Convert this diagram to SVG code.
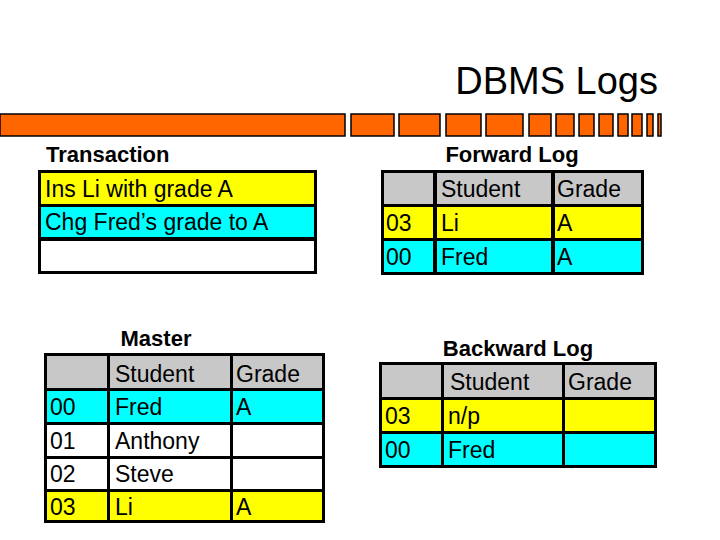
<svg xmlns="http://www.w3.org/2000/svg" width="720" height="540" viewBox="0 0 720 540">
<style>
text{font-family:"Liberation Sans",Arial,sans-serif;font-size:23px;fill:#000}
.h{font-weight:bold;font-size:22px}
.bar rect{fill:#ff6600;stroke:#000;stroke-width:1.5}
.g{fill:#c8c8c8}.y{fill:#ffff00}.c{fill:#00ffff}.w{fill:#fff}
</style>
<rect width="720" height="540" fill="#fff"/>
<text x="658" y="94" font-size="38" text-anchor="end" style="font-size:38px">DBMS Logs</text>
<g class="bar">
<rect x="0" y="114" width="345" height="22"/>
<rect x="351" y="114" width="43" height="22"/>
<rect x="399" y="114" width="41" height="22"/>
<rect x="446" y="114" width="35" height="22"/>
<rect x="486" y="114" width="37" height="22"/>
<rect x="529" y="114" width="22" height="22"/>
<rect x="556" y="114" width="18" height="22"/>
<rect x="579" y="114" width="15" height="22"/>
<rect x="599" y="114" width="14" height="22"/>
<rect x="618" y="114" width="10" height="22"/>
<rect x="632" y="114" width="10" height="22"/>
<rect x="647" y="114" width="6" height="22"/>
<rect x="658" y="114" width="3" height="22"/>
</g>
<g id="transaction">
<text class="h" x="46" y="162">Transaction</text>
<rect x="38" y="170" width="279" height="104" fill="#000"/>
<rect class="y" x="41" y="173" width="273" height="31"/>
<rect class="c" x="41" y="207" width="273" height="30"/>
<rect class="w" x="41" y="241" width="273" height="30"/>
<text x="45" y="197">Ins Li with grade A</text>
<text x="45" y="230">Chg Fred’s grade to A</text>
</g>
<g id="forward">
<text class="h" x="512" y="162" text-anchor="middle">Forward Log</text>
<rect x="381" y="170" width="263" height="105" fill="#000"/>
<rect class="g" x="384" y="173" width="49" height="31"/>
<rect class="g" x="437" y="173" width="114" height="31"/>
<rect class="g" x="555" y="173" width="86" height="31"/>
<rect class="y" x="384" y="207" width="49" height="31"/>
<rect class="y" x="437" y="207" width="114" height="31"/>
<rect class="y" x="555" y="207" width="86" height="31"/>
<rect class="c" x="384" y="241" width="49" height="31"/>
<rect class="c" x="437" y="241" width="114" height="31"/>
<rect class="c" x="555" y="241" width="86" height="31"/>
<text x="441" y="197">Student</text><text x="557" y="197">Grade</text>
<text x="386" y="231">03</text><text x="441" y="231">Li</text><text x="557" y="231">A</text>
<text x="386" y="265">00</text><text x="441" y="265">Fred</text><text x="557" y="265">A</text>
</g>
<g id="master">
<text class="h" x="156" y="346" text-anchor="middle">Master</text>
<rect x="44" y="353" width="281" height="170" fill="#000"/>
<rect class="g" x="47" y="356" width="60" height="32"/>
<rect class="g" x="110" y="356" width="120" height="32"/>
<rect class="g" x="233" y="356" width="89" height="32"/>
<rect class="c" x="47" y="391" width="60" height="31"/>
<rect class="c" x="110" y="391" width="120" height="31"/>
<rect class="c" x="233" y="391" width="89" height="31"/>
<rect class="w" x="47" y="425" width="60" height="31"/>
<rect class="w" x="110" y="425" width="120" height="31"/>
<rect class="w" x="233" y="425" width="89" height="31"/>
<rect class="w" x="47" y="459" width="60" height="30"/>
<rect class="w" x="110" y="459" width="120" height="30"/>
<rect class="w" x="233" y="459" width="89" height="30"/>
<rect class="y" x="47" y="492" width="60" height="28"/>
<rect class="y" x="110" y="492" width="120" height="28"/>
<rect class="y" x="233" y="492" width="89" height="28"/>
<text x="115" y="382">Student</text><text x="236" y="382">Grade</text>
<text x="50" y="415">00</text><text x="115" y="415">Fred</text><text x="236" y="415">A</text>
<text x="50" y="449">01</text><text x="115" y="449">Anthony</text>
<text x="50" y="482">02</text><text x="115" y="482">Steve</text>
<text x="50" y="515">03</text><text x="115" y="515">Li</text><text x="236" y="515">A</text>
</g>
<g id="backward">
<text class="h" x="518" y="356" text-anchor="middle">Backward Log</text>
<rect x="379" y="362" width="278" height="106" fill="#000"/>
<rect class="g" x="382" y="365" width="59" height="32"/>
<rect class="g" x="444" y="365" width="118" height="32"/>
<rect class="g" x="565" y="365" width="89" height="32"/>
<rect class="y" x="382" y="400" width="59" height="31"/>
<rect class="y" x="444" y="400" width="118" height="31"/>
<rect class="y" x="565" y="400" width="89" height="31"/>
<rect class="c" x="382" y="434" width="59" height="31"/>
<rect class="c" x="444" y="434" width="118" height="31"/>
<rect class="c" x="565" y="434" width="89" height="31"/>
<text x="450" y="390">Student</text><text x="568" y="390">Grade</text>
<text x="385" y="424">03</text><text x="448" y="424">n/p</text>
<text x="385" y="458">00</text><text x="448" y="458">Fred</text>
</g>
</svg>
